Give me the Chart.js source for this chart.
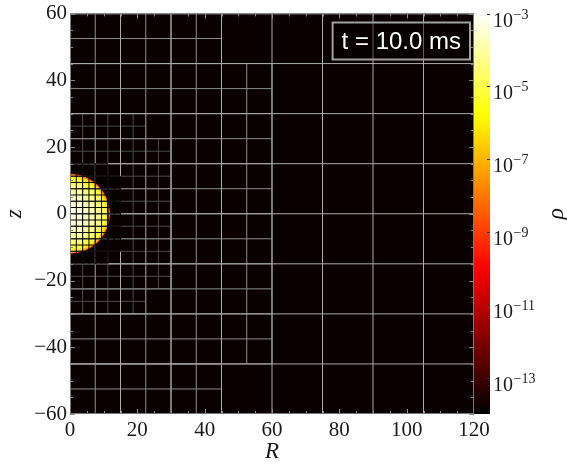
<!DOCTYPE html>
<html>
<head>
<meta charset="utf-8">
<script src="https://cdn.jsdelivr.net/npm/chart.js@4.4.1/dist/chart.umd.min.js"></script>
<style>
  html, body { margin: 0; padding: 0; background: #ffffff; }
  #wrap { width: 567px; height: 469px; position: relative; }
</style>
</head>
<body>
<div id="wrap"><canvas id="c" width="567" height="469"></canvas></div>
<script>
// Axisymmetric (R, z) density snapshot with adaptive-mesh block outlines.

const timeLabel = 't = 10.0 ms';
const rTicks = [0, 20, 40, 60, 80, 100, 120];
const zTicks = [-60, -40, -20, 0, 20, 40, 60];
const rhoTicks = [1e-13, 1e-11, 1e-9, 1e-7, 1e-5, 1e-3];
const rhoRange = [1e-14, 1e-3];

// Density of the surrounding atmosphere
const ambientDensity = 1.5e-14;

// Radial density profile of the star (centred at R = 0, z = 0)
const starCentre = [0, 0];
const starProfileRadius  = [0,    3,      5,      7,    9,      10.5, 11.3,  11.7,  11.9,  12.0];
const starProfileDensity = [6e-4, 4.5e-4, 2.5e-4, 9e-5, 2.5e-5, 4e-6, 3e-7,  3e-9,  3e-12, 1.5e-14];

// Block edge length on each refinement level
const blockSize = [15, 7.5, 3.75, 1.875];
// Refined patches: [level, R min, R max, z min, z max]
const refinedPatches = [
  [0, 0, 120, -60, 60],
  [1, 0, 60, -45, 45],
  [1, 0, 45, 45, 60],
  [1, 0, 45, -60, -45],
  [2, 0, 30, -22.5, 22.5],
  [2, 0, 22.5, 22.5, 30],
  [2, 0, 22.5, -30, -22.5],
  [3, 0, 11.25, -15, 15],
  [3, 11.25, 15, -11.25, 11.25]
];

// ---- colour map ("hot") on a log density scale ----
function hot(f) {
  f = Math.min(1, Math.max(0, f));
  const r = Math.min(1, f / 0.365079);
  const g = Math.min(1, Math.max(0, (f - 0.365079) / 0.380953));
  const b = Math.min(1, Math.max(0, (f - 0.746032) / 0.253968));
  return 'rgb(' + Math.round(r * 255) + ',' + Math.round(g * 255) + ',' + Math.round(b * 255) + ')';
}
const logMin = Math.log10(rhoRange[0]);
const logMax = Math.log10(rhoRange[1]);
function densityColor(rho) {
  return hot((Math.log10(rho) - logMin) / (logMax - logMin));
}

// ---- block outlines per level, as broken polylines ----
function meshSegments(level) {
  const s = blockSize[level];
  const pts = [];
  refinedPatches.filter(p => p[0] === level).forEach(([, r0, r1, z0, z1]) => {
    for (let r = r0; r <= r1 + 1e-9; r += s) {
      pts.push({x: r, y: z0}, {x: r, y: z1}, {x: null, y: null});
    }
    for (let z = z0; z <= z1 + 1e-9; z += s) {
      pts.push({x: r0, y: z}, {x: r1, y: z}, {x: null, y: null});
    }
  });
  return pts;
}

const meshStyle = [
  {color: '#ababab', order: 1},
  {color: '#8c8c8c', order: 2},
  {color: '#4c4c4c', order: 3},
  {color: '#050505', order: 0}
];

const meshDatasets = blockSize.map((s, level) => ({
  type: 'scatter',
  data: meshSegments(level),
  showLine: true,
  borderColor: meshStyle[level].color,
  borderWidth: 1,
  pointRadius: 0,
  pointHoverRadius: 0,
  spanGaps: false,
  clip: 0,
  order: meshStyle[level].order
}));

const starOuter = starProfileRadius[starProfileRadius.length - 1];

function starRadiusPx(chart) {
  const sx = chart.scales.x;
  return Math.abs(sx.getPixelForValue(starCentre[0] + starOuter) - sx.getPixelForValue(starCentre[0]));
}

function starGradient(chart) {
  const sx = chart.scales.x, sy = chart.scales.y;
  const cx = sx.getPixelForValue(starCentre[0]);
  const cy = sy.getPixelForValue(starCentre[1]);
  const rad = starRadiusPx(chart);
  if (!isFinite(cx) || !isFinite(cy) || !(rad > 0)) return 'rgba(0,0,0,0)';
  const g = chart.ctx.createRadialGradient(cx, cy, 0, cx, cy, rad);
  starProfileRadius.forEach((r, i) => {
    g.addColorStop(r / starOuter, densityColor(starProfileDensity[i]));
  });
  return g;
}

const starDataset = {
  type: 'scatter',
  data: [{x: starCentre[0], y: starCentre[1]}],
  pointRadius: ctx => starRadiusPx(ctx.chart),
  pointHoverRadius: ctx => starRadiusPx(ctx.chart),
  pointBackgroundColor: ctx => starGradient(ctx.chart),
  pointBorderWidth: 0,
  clip: 0,
  order: 5
};

const SERIF = "'Liberation Serif', 'Times New Roman', serif";
const SANS = "'Liberation Sans', Arial, sans-serif";
const TEXT = '#1a1a1a';

function fmtTick(v) {
  return v < 0 ? '\u2212' + Math.abs(v) : String(v);
}

const overlays = {
  id: 'overlays',
  beforeDatasetsDraw(chart) {
    const {ctx, chartArea: a} = chart;
    ctx.save();
    ctx.fillStyle = densityColor(ambientDensity);
    ctx.fillRect(a.left, a.top, a.right - a.left, a.bottom - a.top);
    ctx.restore();
  },
  afterDatasetsDraw(chart) {
    const {ctx, chartArea: a, scales} = chart;
    const sx = scales.x, sy = scales.y;
    ctx.save();
    ctx.lineWidth = 1;
    ctx.strokeStyle = '#8c8c8c';
    const seg = (x1, y1, x2, y2) => { ctx.beginPath(); ctx.moveTo(x1, y1); ctx.lineTo(x2, y2); ctx.stroke(); };
    // inward tick marks on all four edges
    for (let v = sx.min; v <= sx.max + 1e-9; v += 5) {
      const px = Math.round(sx.getPixelForValue(v)) + 0.5;
      const len = (v % 20 === 0) ? 5 : 3;
      seg(px, a.bottom, px, a.bottom - len);
      seg(px, a.top, px, a.top + len);
    }
    for (let v = sy.min; v <= sy.max + 1e-9; v += 5) {
      const py = Math.round(sy.getPixelForValue(v)) + 0.5;
      const len = (v % 20 === 0) ? 5 : 3;
      seg(a.left, py, a.left + len, py);
      seg(a.right, py, a.right - len, py);
    }
    // plot frame
    ctx.strokeStyle = '#7a7a7a';
    ctx.strokeRect(a.left + 0.5, a.top + 0.5, a.right - a.left - 1, a.bottom - a.top - 1);

    // time stamp box
    ctx.font = '24px ' + SANS;
    const tw = ctx.measureText(timeLabel).width;
    const bw = tw + 18, bh = 37;
    const bx = a.right - 4 - bw, by = a.top + 9;
    ctx.fillStyle = 'rgba(0,0,0,0.45)';
    ctx.fillRect(bx, by, bw, bh);
    ctx.strokeStyle = '#a0a0a0';
    ctx.lineWidth = 2;
    ctx.strokeRect(bx, by, bw, bh);
    ctx.fillStyle = '#ffffff';
    ctx.textAlign = 'center';
    ctx.textBaseline = 'middle';
    ctx.fillText(timeLabel, bx + bw / 2, by + bh / 2 + 1);
    ctx.restore();
  },
  afterDraw(chart) {
    const {ctx, chartArea: a, scales} = chart;
    const sr = scales.rho;
    ctx.save();
    // colour bar
    const x0 = a.right, w = 16;
    const grad = ctx.createLinearGradient(0, sr.bottom, 0, sr.top);
    grad.addColorStop(0, hot(0));
    grad.addColorStop(0.365079, hot(0.365079));
    grad.addColorStop(0.746032, hot(0.746032));
    grad.addColorStop(1, hot(1));
    ctx.fillStyle = grad;
    ctx.fillRect(x0, sr.top, w, sr.bottom - sr.top);
    // colour bar ticks and labels (10 with a raised exponent)
    ctx.strokeStyle = '#333333';
    ctx.lineWidth = 1;
    rhoTicks.forEach(v => {
      const py = Math.round(sr.getPixelForValue(v)) + 0.5;
      ctx.beginPath(); ctx.moveTo(x0 + w, py); ctx.lineTo(x0 + w - 3, py); ctx.stroke();
      const exp = Math.round(Math.log10(v));
      ctx.fillStyle = TEXT;
      ctx.textAlign = 'left';
      ctx.textBaseline = 'alphabetic';
      ctx.font = '20px ' + SERIF;
      const lx = x0 + w + 3;
      ctx.fillText('10', lx, py + 12);
      const bw = ctx.measureText('10').width;
      ctx.font = '14px ' + SERIF;
      ctx.fillText((exp < 0 ? '\u2212' : '') + Math.abs(exp), lx + bw + 0.5, py + 4);
    });
    // colour bar title
    ctx.translate(557, (sr.top + sr.bottom) / 2);
    ctx.rotate(-Math.PI / 2);
    ctx.font = 'italic 24px ' + SERIF;
    ctx.textAlign = 'center';
    ctx.textBaseline = 'middle';
    ctx.fillStyle = TEXT;
    ctx.fillText('\u03C1', 0, 0);
    ctx.restore();
  }
};

new Chart(document.getElementById('c'), {
  type: 'scatter',
  data: { datasets: [...meshDatasets, starDataset] },
  options: {
    responsive: false,
    animation: false,
    devicePixelRatio: 1,
    events: [],
    layout: { padding: { top: 11, left: 0, right: 0, bottom: 0 } },
    plugins: { legend: { display: false }, tooltip: { enabled: false } },
    scales: {
      x: {
        type: 'linear', position: 'bottom', min: 0, max: 120,
        grid: { display: false, drawTicks: false }, border: { display: false },
        afterBuildTicks: s => { s.ticks = rTicks.map(v => ({ value: v })); },
        afterFit: s => { s.height = 55; },
        ticks: { autoSkip: false, maxRotation: 0, padding: 6, color: TEXT,
                 font: { family: SERIF, size: 21, lineHeight: 1 }, callback: fmtTick },
        title: { display: true, text: 'R', color: TEXT,
                 font: { family: SERIF, size: 23, style: 'italic', lineHeight: 1.2 },
                 padding: { top: 0, bottom: 3 } }
      },
      y: {
        type: 'linear', position: 'left', min: -60, max: 60,
        grid: { display: false, drawTicks: false }, border: { display: false },
        afterBuildTicks: s => { s.ticks = zTicks.map(v => ({ value: v })); },
        afterFit: s => { s.width = 70; },
        ticks: { autoSkip: false, padding: 3, color: TEXT,
                 font: { family: SERIF, size: 21, lineHeight: 1 }, callback: fmtTick },
        title: { display: true, text: 'z', color: TEXT,
                 font: { family: SERIF, size: 23, style: 'italic', lineHeight: 1.2 },
                 padding: { top: 1, bottom: 0 } }
      },
      rho: {
        type: 'logarithmic', position: 'right', min: rhoRange[0], max: rhoRange[1],
        grid: { display: false, drawTicks: false }, border: { display: false },
        afterBuildTicks: s => { s.ticks = rhoTicks.map(v => ({ value: v })); },
        afterFit: s => { s.width = 93; },
        ticks: { display: false }
      }
    }
  },
  plugins: [overlays]
});
</script>
</body>
</html>
